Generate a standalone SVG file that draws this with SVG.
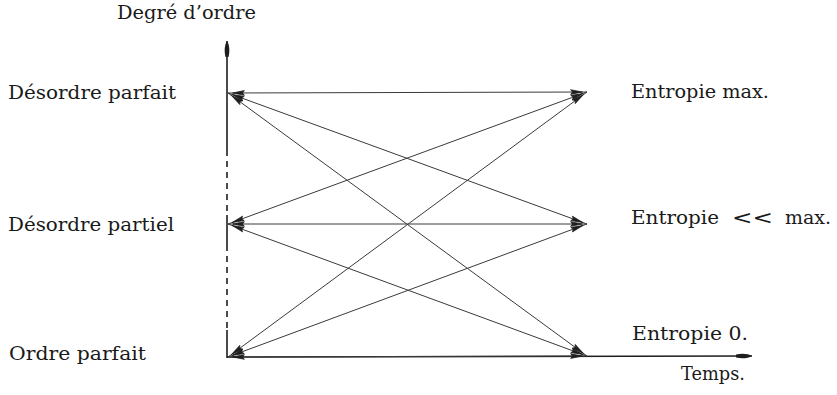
<svg xmlns="http://www.w3.org/2000/svg" width="837" height="395" viewBox="0 0 837 395">
  <style>
    .lbl { font-family: "DejaVu Serif", "Liberation Serif", serif; font-size: 19px; fill: #1a1a1a; }
    .conn { stroke: #3a3a3a; stroke-width: 1; fill: none; marker-start: url(#ah); marker-end: url(#ah); }
    .axis { stroke: #1e1e1e; stroke-width: 1.6; fill: none; }
    .axisd { stroke: #1e1e1e; stroke-width: 1.6; fill: none; stroke-dasharray: 6 5; }
  </style>
  <defs>
    <marker id="ah" markerUnits="userSpaceOnUse" markerWidth="20" markerHeight="10" refX="5" refY="0" orient="auto-start-reverse" viewBox="-16 -5 22 10" overflow="visible">
      <path d="M0,0 L-13,-2.6 L-11,0 L-13,2.6 Z" fill="#1e1e1e" stroke="#1e1e1e" stroke-width="0.8"/>
    </marker>
    <marker id="ax" markerUnits="userSpaceOnUse" markerWidth="20" markerHeight="10" refX="0" refY="0" orient="auto" viewBox="-18 -5 20 10" overflow="visible">
      <path d="M0,0 C-4,-2.5 -10,-3 -16,-1.5 L-16,1.5 C-10,3 -4,2.5 0,0 Z" fill="#1e1e1e"/>
    </marker>
  </defs>

  <g id="axes">
    <line class="axis" x1="227" y1="150" x2="227" y2="41" marker-end="url(#ax)"/>
    <line class="axisd" x1="227" y1="150" x2="227" y2="215"/>
    <line class="axis" x1="227" y1="215" x2="227" y2="245"/>
    <line class="axisd" x1="227" y1="245" x2="227" y2="330"/>
    <line class="axis" x1="227" y1="330" x2="227" y2="358"/>
    <line class="axis" x1="227" y1="357" x2="752" y2="356" marker-end="url(#ax)"/>
  </g>

  <g id="connectors">
    <line class="conn" x1="228" y1="93" x2="587" y2="92"/>
    <line class="conn" x1="228" y1="93" x2="587" y2="224"/>
    <line class="conn" x1="228" y1="93" x2="587" y2="356"/>
    <line class="conn" x1="228" y1="224" x2="587" y2="92"/>
    <line class="conn" x1="228" y1="224" x2="587" y2="224"/>
    <line class="conn" x1="228" y1="224" x2="587" y2="356"/>
    <line class="conn" x1="228" y1="357" x2="587" y2="92"/>
    <line class="conn" x1="228" y1="357" x2="587" y2="224"/>
    <line class="conn" x1="228" y1="357" x2="587" y2="356"/>
  </g>

  <g id="label-y"><text class="lbl" x="117" y="19" textLength="139" lengthAdjust="spacingAndGlyphs">Degré d’ordre</text></g>
  <g id="node-desordre-parfait"><text class="lbl" x="8" y="99" textLength="168" lengthAdjust="spacingAndGlyphs">Désordre parfait</text></g>
  <g id="node-desordre-partiel"><text class="lbl" x="8" y="231" textLength="166" lengthAdjust="spacingAndGlyphs">Désordre partiel</text></g>
  <g id="node-ordre-parfait"><text class="lbl" x="9" y="360" textLength="137" lengthAdjust="spacingAndGlyphs">Ordre parfait</text></g>
  <g id="node-entropie-max"><text class="lbl" x="631" y="98" textLength="138" lengthAdjust="spacingAndGlyphs">Entropie max.</text></g>
  <g id="node-entropie-ll-max">
    <text class="lbl" x="631" y="224" textLength="88" lengthAdjust="spacingAndGlyphs">Entropie</text>
    <text class="lbl" x="732" y="224" textLength="41" lengthAdjust="spacingAndGlyphs" style="font-weight:300">&lt;&lt;</text>
    <text class="lbl" x="785" y="224" textLength="46" lengthAdjust="spacingAndGlyphs">max.</text>
  </g>
  <g id="node-entropie-0"><text class="lbl" x="632" y="340" textLength="116" lengthAdjust="spacingAndGlyphs">Entropie 0.</text></g>
  <g id="label-x"><text class="lbl" x="681" y="380" textLength="64" lengthAdjust="spacingAndGlyphs">Temps.</text></g>
</svg>
